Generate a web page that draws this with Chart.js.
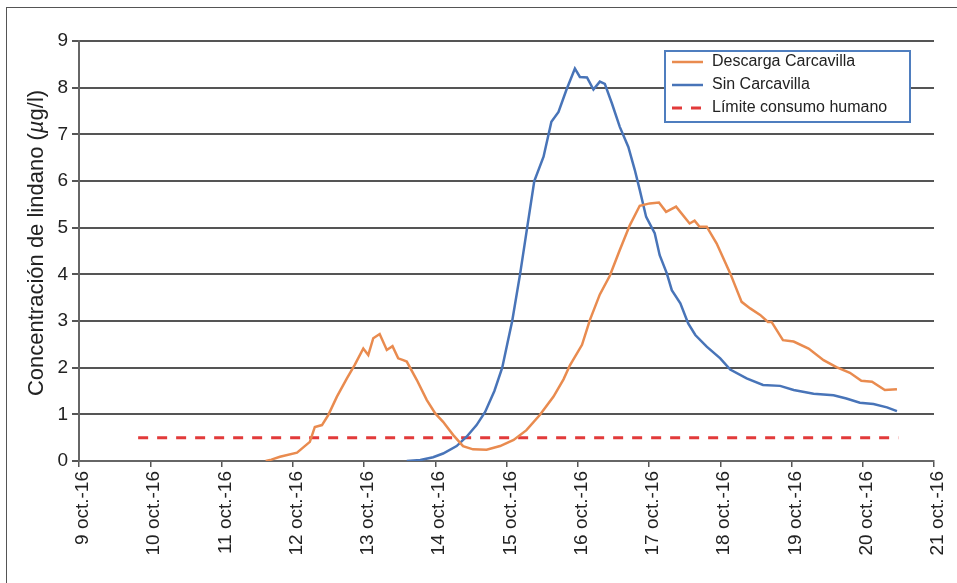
<!DOCTYPE html>
<html>
<head>
<meta charset="UTF-8">
<title>Lindano</title>
<style>
body {
	margin: 0;
	background-color: #ffffff;
}
.chart-box {
	position: relative;
	width: 957px;
	height: 583px;
}
</style>
<script src="https://cdn.jsdelivr.net/npm/chart.js"></script>
</head>
<body>
<div class="chart-box">
	<canvas id="lindanoChart" width="957" height="583"></canvas>
</div>
<script>
// tick labels of the date axis (9 to 21 oct.)
var tickLabels = ['9 oct.-16', '10 oct.-16', '11 oct.-16', '12 oct.-16', '13 oct.-16', '14 oct.-16',
    '15 oct.-16', '16 oct.-16', '17 oct.-16', '18 oct.-16', '19 oct.-16', '20 oct.-16', '21 oct.-16'];

// Descarga Carcavilla (day of October, ug/l)
var descargaDias = [11.62, 11.70, 11.82, 12.06, 12.24, 12.31, 12.41, 12.50, 12.62, 12.76, 12.87, 12.99, 13.06, 13.13,
    13.22, 13.32, 13.40, 13.48, 13.55, 13.60, 13.74, 13.88, 14.00, 14.11, 14.25, 14.39, 14.53, 14.72, 14.91, 15.10,
    15.28, 15.47, 15.66, 15.80, 15.89, 16.06, 16.17, 16.31, 16.45, 16.59, 16.73, 16.87, 17.01, 17.14, 17.24, 17.38,
    17.57, 17.64, 17.71, 17.81, 17.95, 18.14, 18.30, 18.42, 18.56, 18.67, 18.72, 18.88, 19.03, 19.24, 19.45, 19.63,
    19.82, 19.98, 20.13, 20.31, 20.48];
var descargaVals = [0, 0.03, 0.09, 0.18, 0.41, 0.73, 0.77, 0.99, 1.38, 1.77, 2.06, 2.41, 2.27, 2.63,
    2.72, 2.38, 2.46, 2.20, 2.16, 2.13, 1.74, 1.31, 1.02, 0.84, 0.56, 0.32, 0.25, 0.24, 0.32, 0.45,
    0.66, 0.99, 1.38, 1.75, 2.05, 2.49, 3.02, 3.57, 3.97, 4.52, 5.05, 5.47, 5.52, 5.54, 5.34, 5.45,
    5.09, 5.15, 5.02, 5.02, 4.66, 4.02, 3.41, 3.27, 3.13, 2.98, 2.98, 2.59, 2.56, 2.41, 2.16, 2.01,
    1.89, 1.72, 1.70, 1.52, 1.54];

// Sin Carcavilla
var sinDias = [13.60, 13.79, 13.97, 14.11, 14.30, 14.44, 14.58, 14.70, 14.83, 14.94, 15.01, 15.08, 15.19, 15.29,
    15.39, 15.52, 15.63, 15.73, 15.84, 15.96, 16.03, 16.13, 16.22, 16.31, 16.38, 16.48, 16.59, 16.71, 16.80,
    16.87, 16.96, 17.08, 17.15, 17.25, 17.32, 17.44, 17.55, 17.65, 17.81, 18.00, 18.14, 18.37, 18.60, 18.84,
    19.03, 19.31, 19.59, 19.77, 19.96, 20.15, 20.34, 20.48];
var sinVals = [0, 0.02, 0.08, 0.16, 0.32, 0.52, 0.77, 1.05, 1.5, 2.0, 2.5, 3.0, 4.0, 5.0,
    6.0, 6.52, 7.27, 7.48, 7.95, 8.41, 8.23, 8.22, 7.96, 8.13, 8.08, 7.66, 7.16, 6.73, 6.24,
    5.81, 5.23, 4.88, 4.41, 4.02, 3.66, 3.38, 2.95, 2.70, 2.45, 2.20, 1.96, 1.77, 1.63, 1.61,
    1.52, 1.44, 1.41, 1.34, 1.25, 1.22, 1.15, 1.07];

// Limite consumo humano
var limiteDias = [9.83, 20.5];
var limiteVals = [0.5, 0.5];

function toPoints(xs, ys) {
    return xs.map(function (x, i) { return { x: x, y: ys[i] }; });
}

var FONT = "'Liberation Sans', Arial, sans-serif";

// frame around the figure + y title with italic mu
var framePlugin = {
    id: 'frame',
    beforeDraw: function (chart) {
        var ctx = chart.ctx;
        ctx.save();
        ctx.fillStyle = '#ffffff';
        ctx.fillRect(0, 0, chart.width, chart.height);
        ctx.strokeStyle = '#555555';
        ctx.lineWidth = 1;
        ctx.strokeRect(6.5, 7.5, 2000, 2000);
        ctx.restore();
    },
    afterDraw: function (chart) {
        var ctx = chart.ctx;
        var parts = [
            { t: 'Concentración de lindano (', f: '22px ' + FONT },
            { t: 'µ', f: 'italic 22px ' + FONT },
            { t: 'g/l)', f: '22px ' + FONT }
        ];
        ctx.save();
        var total = 0;
        parts.forEach(function (p) { ctx.font = p.f; p.w = ctx.measureText(p.t).width; total += p.w; });
        ctx.translate(37, 243);
        ctx.rotate(-Math.PI / 2);
        ctx.fillStyle = '#222222';
        ctx.textBaseline = 'middle';
        ctx.textAlign = 'left';
        var x = -total / 2;
        parts.forEach(function (p) { ctx.font = p.f; ctx.fillText(p.t, x, 0); x += p.w; });
        ctx.restore();
    }
};

// boxed legend in the top right
var legendPlugin = {
    id: 'boxLegend',
    afterDatasetsDraw: function (chart) {
        var ctx = chart.ctx;
        var bx = 665, by = 51, bw = 245, bh = 71;
        ctx.save();
        ctx.fillStyle = '#ffffff';
        ctx.fillRect(bx, by, bw, bh);
        ctx.strokeStyle = '#4f7ebf';
        ctx.lineWidth = 2;
        ctx.strokeRect(bx, by, bw, bh);
        ctx.font = '16px ' + FONT;
        ctx.textBaseline = 'middle';
        chart.data.datasets.forEach(function (ds, i) {
            var y = 62 + i * 23;
            ctx.strokeStyle = ds.borderColor;
            ctx.lineWidth = ds.borderWidth;
            ctx.setLineDash(ds.borderDash || []);
            ctx.beginPath();
            ctx.moveTo(672, y);
            ctx.lineTo(703, y);
            ctx.stroke();
            ctx.setLineDash([]);
            ctx.fillStyle = '#222222';
            ctx.fillText(ds.label, 712, y);
        });
        ctx.restore();
    }
};

var ctx = document.getElementById('lindanoChart').getContext('2d');
var lindanoChart = new Chart(ctx, {
    type: 'line',
    data: {
        datasets: [{
            label: 'Descarga Carcavilla',
            data: toPoints(descargaDias, descargaVals),
            borderColor: '#e98b4f',
            borderWidth: 2.5,
            pointRadius: 0,
            tension: 0,
            fill: false
        }, {
            label: 'Sin Carcavilla',
            data: toPoints(sinDias, sinVals),
            borderColor: '#4874b8',
            borderWidth: 2.5,
            pointRadius: 0,
            tension: 0,
            fill: false
        }, {
            label: 'Límite consumo humano',
            data: toPoints(limiteDias, limiteVals),
            borderColor: '#e23a3a',
            borderWidth: 3,
            borderDash: [10, 9],
            pointRadius: 0,
            fill: false
        }]
    },
    options: {
        responsive: false,
        animation: false,
        layout: { padding: { top: 41, right: 23, left: 0, bottom: 0 } },
        plugins: {
            legend: { display: false },
            tooltip: { enabled: false }
        },
        scales: {
            x: {
                type: 'linear',
                min: 9,
                max: 21,
                afterFit: function (scale) {
                    scale.height = 122;
                    scale.paddingLeft = 0;
                    scale.paddingRight = 0;
                },
                ticks: {
                    stepSize: 1,
                    minRotation: 90,
                    maxRotation: 90,
                    padding: 4,
                    labelOffset: 4,
                    color: '#222222',
                    font: { family: FONT, size: 19 },
                    callback: function (v) { return tickLabels[v - 9]; }
                },
                grid: {
                    drawOnChartArea: false,
                    drawTicks: true,
                    tickLength: 6,
                    color: '#555555',
                    lineWidth: 1.5
                },
                border: { color: '#666666', width: 2 }
            },
            y: {
                min: 0,
                max: 9,
                afterFit: function (scale) { scale.width = 79; },
                ticks: {
                    stepSize: 1,
                    padding: 4,
                    color: '#222222',
                    font: { family: FONT, size: 19 }
                },
                grid: {
                    color: '#555555',
                    lineWidth: 2,
                    tickLength: 7
                },
                border: { color: '#666666', width: 2 }
            }
        }
    },
    plugins: [framePlugin, legendPlugin]
});
</script>
</body>
</html>
